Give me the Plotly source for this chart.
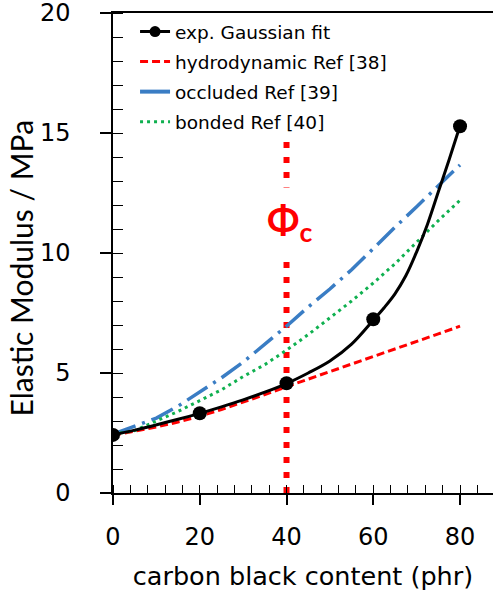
import plotly.graph_objects as go

# measured points and the Gaussian fit through them
exp_x = [0, 20, 40, 60, 80]
exp_y = [2.42, 3.32, 4.57, 7.24, 15.28]

fit_x = [0, 5, 10, 15, 20, 25, 30, 35, 40, 45, 50, 55, 60, 62.5, 65, 67.5, 70, 72.5, 75, 77.5, 80]
fit_y = [2.42, 2.62, 2.84, 3.07, 3.32, 3.59, 3.88, 4.2, 4.56, 5.0, 5.5, 6.2, 7.2, 7.72,
         8.3, 9.05, 10.05, 11.2, 12.55, 13.9, 15.3]

# model curves from the literature
model_x = [0, 5, 10, 15, 20, 25, 30, 35, 40, 45, 50, 55, 60, 65, 70, 75, 80]
hydro_y = [2.4, 2.56, 2.75, 2.96, 3.2, 3.48, 3.78, 4.1, 4.43, 4.74, 5.05, 5.36, 5.68,
           6.0, 6.32, 6.63, 6.95]
occluded_y = [2.45, 2.78, 3.12, 3.62, 4.2, 4.8, 5.45, 6.18, 6.95, 7.75, 8.5, 9.3, 10.2,
              11.07, 11.93, 12.8, 13.67]
bonded_y = [2.45, 2.6, 3.0, 3.4, 3.85, 4.3, 4.85, 5.35, 5.95, 6.6, 7.3, 8.0, 8.75,
            9.55, 10.45, 11.35, 12.2]

phi_c = 40
phi_top = 14.7

WIDE = "DejaVu Sans"
NARROW = "Lato"
x_range = [0, 87.6]
y_range = [0, 20]

fig = go.Figure()

fig.add_trace(go.Scatter(x=[phi_c, phi_c], y=[0, phi_top], mode="lines",
                         line=dict(color="#ff0000", width=6, dash="6px,9px"),
                         showlegend=False, hoverinfo="skip"))
fig.add_trace(go.Scatter(x=model_x, y=hydro_y, mode="lines", name="hydrodynamic Ref [38]",
                         line=dict(color="#ff0000", width=3, dash="8px,4px"),
                         showlegend=False))
fig.add_trace(go.Scatter(x=model_x, y=occluded_y, mode="lines", name="occluded Ref [39]",
                         line=dict(color="#3a7dc4", width=3.5, dash="24px,7px,3px,7px"),
                         showlegend=False))
fig.add_trace(go.Scatter(x=model_x, y=bonded_y, mode="lines", name="bonded Ref [40]",
                         line=dict(color="#0fb04f", width=3, dash="3px,4px"),
                         showlegend=False))
fig.add_trace(go.Scatter(x=fit_x, y=fit_y, mode="lines", line=dict(color="black", width=3),
                         line_shape="spline", showlegend=False))
fig.add_trace(go.Scatter(x=exp_x, y=exp_y, mode="markers",
                         marker=dict(color="black", size=14), showlegend=False))

# legend-only entries, in the reference order
legend_items = [
    ("exp. Gaussian fit", "lines+markers", dict(color="black", width=3), "solid"),
    ("hydrodynamic Ref [38]", "lines", dict(color="#ff0000", width=3), "8px,4px"),
    ("occluded Ref [39]", "lines", dict(color="#3a7dc4", width=4), "solid"),
    ("bonded Ref [40]", "lines", dict(color="#0fb04f", width=3), "3px,4px"),
]
for i, (name, mode, ln, dash) in enumerate(legend_items):
    fig.add_trace(go.Scatter(x=[None], y=[None], mode=mode, name=name,
                             line=dict(dash=dash, **ln),
                             marker=dict(color="black", size=11),
                             legendgroup=str(i)))

fig.add_annotation(x=phi_c, y=11.3, text="<b>Φ<sub>c</sub></b>", showarrow=False,
                   font=dict(family=NARROW, size=38, color="#ff0000"),
                   bgcolor="white", borderpad=8, xshift=3)

# y title sits a bit below the middle of the axis in the reference
fig.add_annotation(x=-0.243, y=0.469, xref="paper", yref="paper", text="Elastic Modulus / MPa",
                   textangle=-90, showarrow=False, xanchor="center", yanchor="middle",
                   font=dict(family=NARROW, size=30, color="black"))

fig.update_layout(
    width=493, height=592,
    margin=dict(l=113, r=0, t=13, b=99),
    paper_bgcolor="white", plot_bgcolor="white",
    font=dict(family=WIDE, size=24, color="black"),
    showlegend=True,
    legend=dict(x=0.058, y=1.0, xanchor="left", yanchor="top",
                font=dict(family=WIDE, size=18.5), tracegroupgap=3,
                bgcolor="rgba(0,0,0,0)"),
    xaxis=dict(range=x_range, showline=True, linecolor="black", linewidth=1.5,
               mirror=True, showgrid=False, zeroline=False, automargin=False,
               ticks="outside", ticklen=10, tickwidth=1.5, tickcolor="black",
               dtick=20, tick0=0, ticklabelstandoff=11, ticklabeloverflow="allow",
               minor=dict(ticks="inside", ticklen=8, dtick=4, tickcolor="black", tickwidth=1),
               title=dict(text="carbon black content (phr)", standoff=18,
                          font=dict(family=WIDE, size=25.5))),
    yaxis=dict(range=y_range, showline=True, linecolor="black", linewidth=1.5,
               showgrid=False, zeroline=False, automargin=False,
               ticks="outside", ticklen=11, tickwidth=1.5, tickcolor="black",
               dtick=5, tick0=0, ticklabelstandoff=25, ticklabeloverflow="allow",
               minor=dict(ticks="inside", ticklen=10, dtick=1, tickcolor="black", tickwidth=1)),
    # second pair of axes only to draw the inner half of the crossing major ticks
    xaxis2=dict(range=x_range, overlaying="x", anchor="y", side="bottom", automargin=False,
                showline=False, showgrid=False, zeroline=False, showticklabels=False,
                ticks="inside", ticklen=10, tickwidth=1.5, tickcolor="black",
                dtick=20, tick0=0),
    yaxis2=dict(range=y_range, overlaying="y", anchor="x", side="left", automargin=False,
                showline=False, showgrid=False, zeroline=False, showticklabels=False,
                ticks="inside", ticklen=11, tickwidth=1.5, tickcolor="black",
                dtick=5, tick0=0),
)

# drop the default 8px page margin so the figure sits at the window corner
fig.write_html("out.html", config={"displayModeBar": False},
               post_script="document.body.style.margin='0';")
